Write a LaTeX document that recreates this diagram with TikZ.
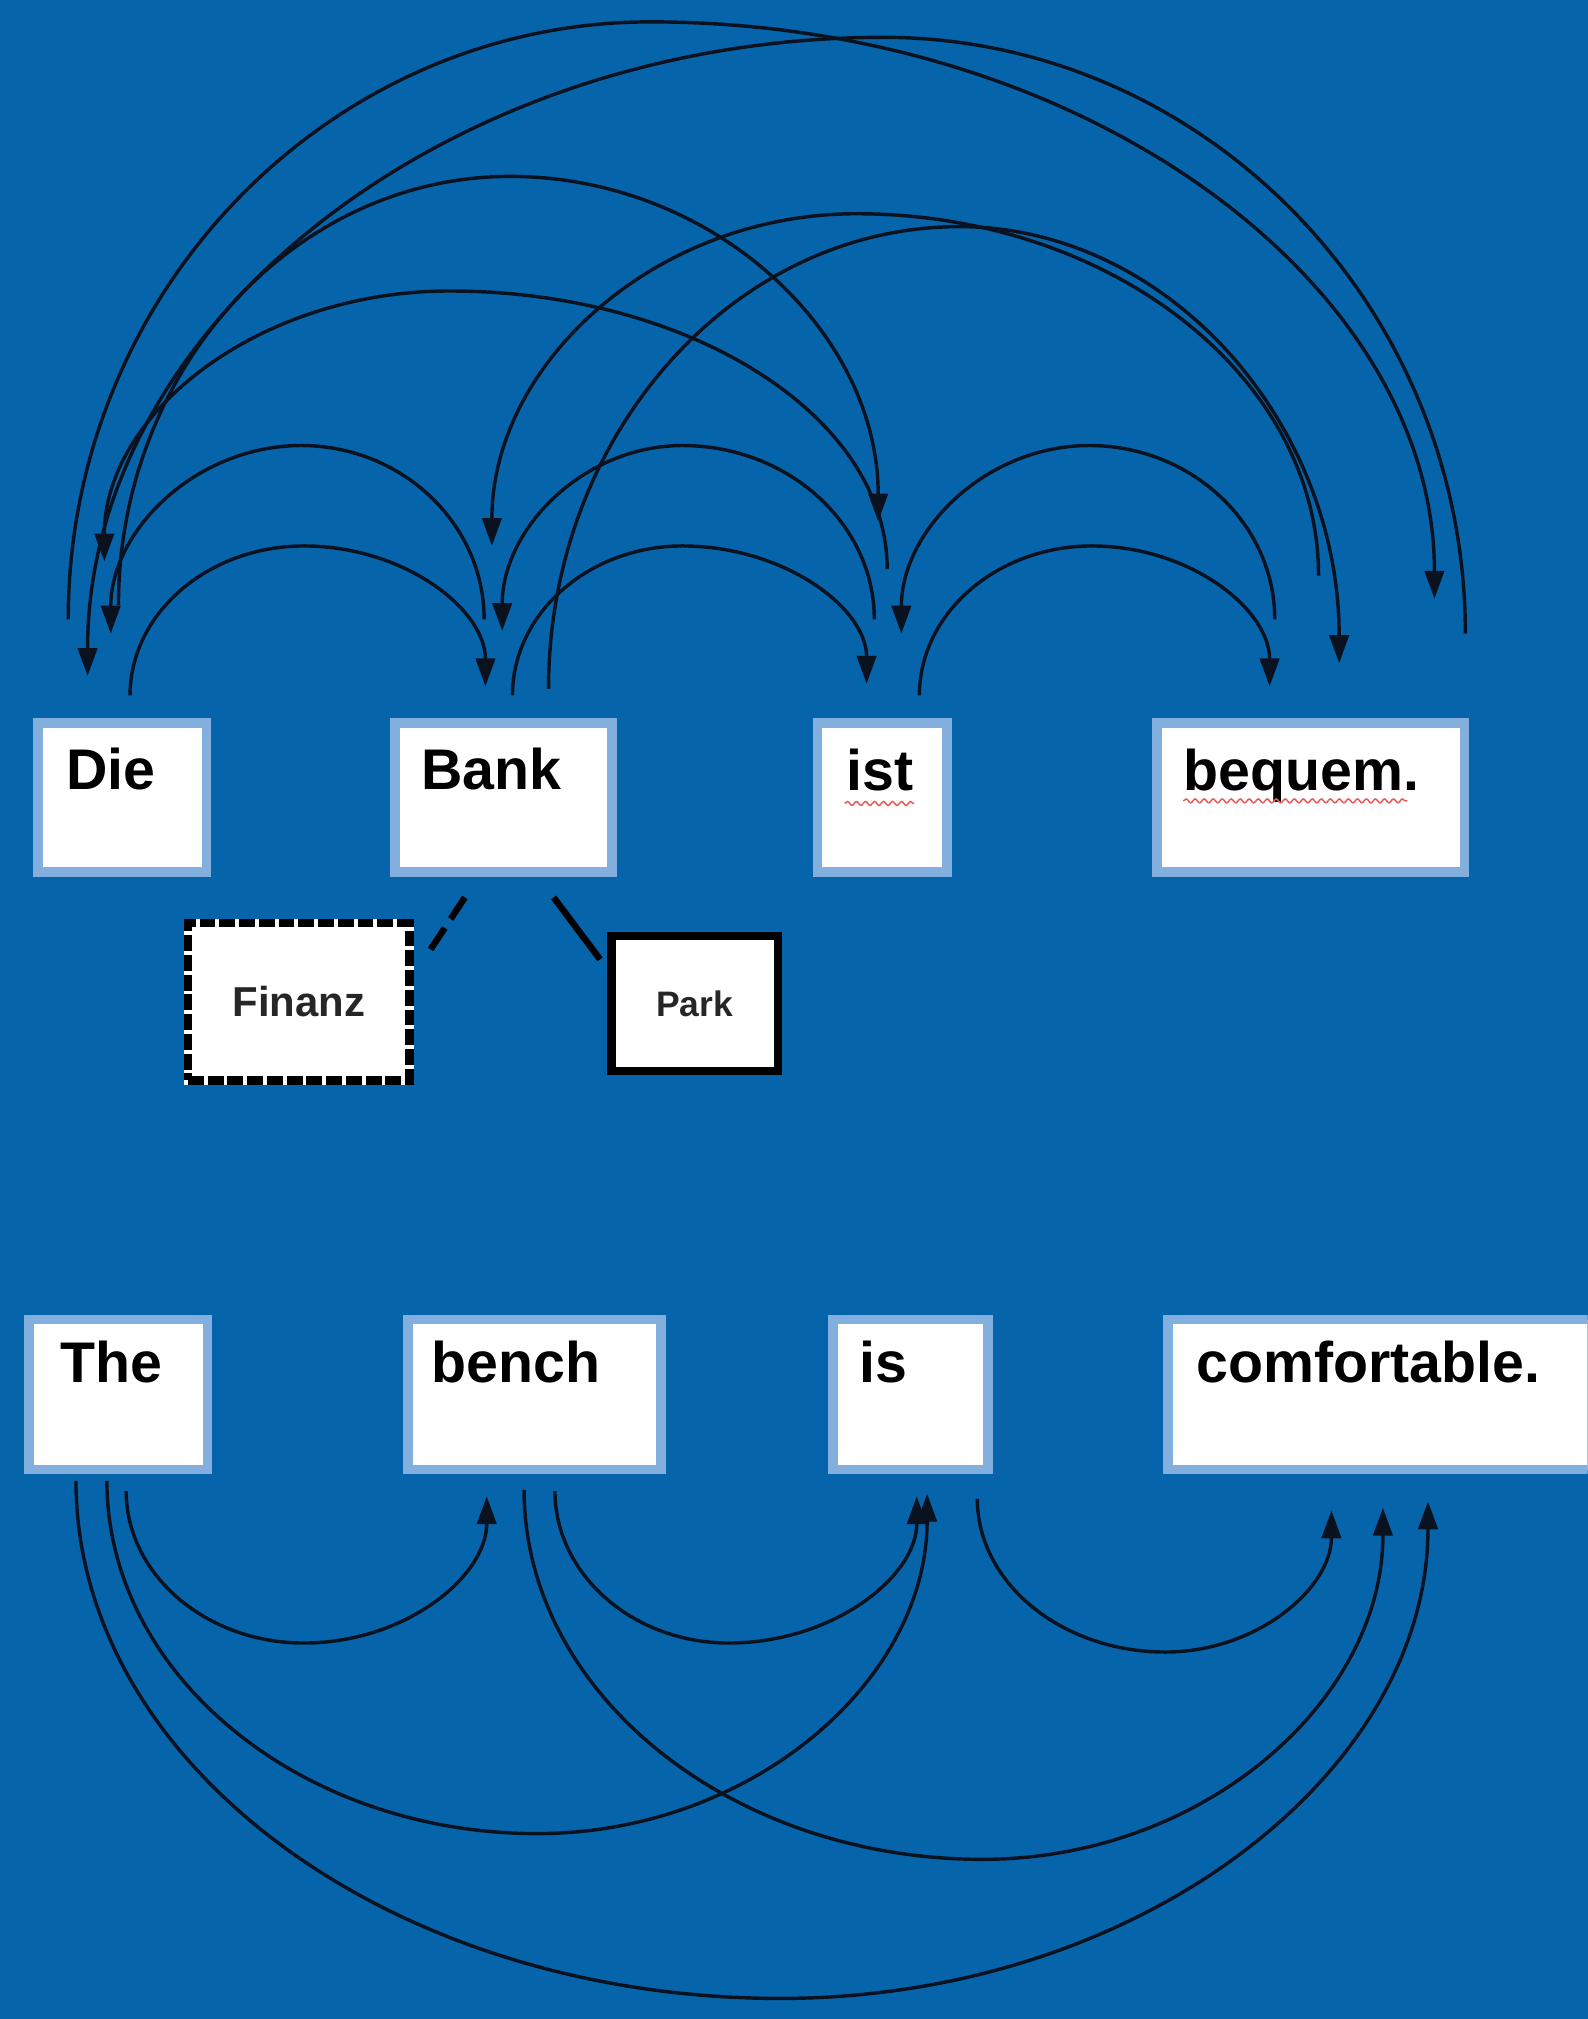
\documentclass[tikz,border=0pt]{standalone}
\usepackage{fontspec}
\setmainfont{Liberation Sans}
\usetikzlibrary{arrows.meta,calc,decorations.pathmorphing}

\definecolor{bgblue}{RGB}{6,100,170}
\definecolor{rimblue}{RGB}{130,175,222}
\definecolor{inkline}{RGB}{10,18,32}
\definecolor{spellred}{RGB}{232,90,90}

% how far the Bezier handles reach towards the corner of each quarter
\newcommand\archull{0.55}
% attention arc: start, apex (top or bottom), end with arrow tip
\newcommand\attnarc[3]{%
  \draw[attn] (#1) .. controls ($(#1)!\archull!(#1|-#2)$) and ($(#2)!\archull!(#1|-#2)$) .. (#2)
    .. controls ($(#2)!\archull!(#3|-#2)$) and ($(#3)!\archull!(#3|-#2)$) .. (#3);}

\begin{document}
\begin{tikzpicture}[x=0.6pt,y=-0.6pt,
  wordbox/.style={draw=rimblue, line width=4.5pt, fill=white, inner sep=0pt, outer sep=0pt},
  wordtext/.style={anchor=base west, inner sep=0pt, text=black,
    font=\bfseries\fontsize{26.7}{32}\selectfont},
  sensebox/.style={draw=black, line width=3.9pt, fill=white, inner sep=0pt, outer sep=0pt,
    text=black!85},
  attn/.style={draw=inkline, line width=1.6pt, -{Triangle[length=13pt,width=9pt]}},
  spell/.style={draw=spellred, line width=0.7pt,
    decorate, decoration={snake, amplitude=0.9pt, segment length=4.2pt}}
]
\path[fill=bgblue, use as bounding box] (0,0) rectangle (1233,1568);
\clip (0,0) rectangle (1233,1568);

% German sentence
\node[wordbox, minimum width=78.3pt, minimum height=69.3pt] (die) at (95,619.5) {};
\node[wordbox, minimum width=101.1pt, minimum height=69.3pt] (bank) at (391,619.5) {};
\node[wordbox, minimum width=60.3pt, minimum height=69.3pt] (ist) at (685,619.5) {};
\node[wordbox, minimum width=143.1pt, minimum height=69.3pt] (bequem) at (1018,619.5) {};
\node[wordtext] (dieT) at (51,613) {Die};
\node[wordtext] (bankT) at (327,613) {Bank};
\node[wordtext] (istT) at (657,614) {ist};
\node[wordtext] (bequemT) at (919,614) {bequem.};

% spell-check squiggles
\coordinate (istW1) at (656,624); \coordinate (istW2) at (710,624);
\coordinate (beqW1) at (919,622); \coordinate (beqW2) at (1093,622);
\draw[spell] (istW1) -- (istW2);
\draw[spell] (beqW1) -- (beqW2);

% the two senses of "Bank"
\node[sensebox, minimum width=103.2pt, minimum height=73.2pt,
  dash pattern=on 7.4pt off 1.8pt,
  preaction={draw=white, solid, line width=3.9pt},
  font=\bfseries\fontsize{19.5}{22}\selectfont] (finanz) at (232,778) {Finanz};
\node[sensebox, minimum width=77.4pt, minimum height=63pt,
  font=\bfseries\fontsize{16.5}{19}\selectfont] (park) at (539.5,779.5) {Park};
\coordinate (bankFin) at (361,697); \coordinate (finEnd) at (332,741);
\coordinate (bankPark) at (430,697); \coordinate (parkEnd) at (466,745);
\draw[line width=3pt, dash pattern=on 12pt off 5pt] (bankFin) -- (finEnd);
\draw[line width=3pt] (bankPark) -- (parkEnd);

% English sentence
\node[wordbox, minimum width=83.1pt, minimum height=69.9pt] (the) at (92,1083) {};
\node[wordbox, minimum width=117.9pt, minimum height=69.9pt] (bench) at (415,1083) {};
\node[wordbox, minimum width=72.3pt, minimum height=69.9pt] (is) at (707,1083) {};
\node[wordbox, minimum width=205.9pt, minimum height=69.9pt] (comf) at (1078.5,1083) {};
\node[wordtext] (theT) at (47,1074) {The};
\node[wordtext] (benchT) at (335,1074) {bench};
\node[wordtext] (isT) at (667,1074) {is};
\node[wordtext] (comfT) at (929,1074) {comfortable.};

% full attention among the German words (arcs above)
\coordinate (DBs) at (101,540);  \coordinate (DBa) at (236,424); \coordinate (DBe) at (377,533);
\coordinate (BDs) at (376,481);  \coordinate (BDa) at (234,346); \coordinate (BDe) at (86,492);
\coordinate (BIs) at (398,540);  \coordinate (BIa) at (530,424); \coordinate (BIe) at (673,531);
\coordinate (IBs) at (679,481);  \coordinate (IBa) at (530,346); \coordinate (IBe) at (390,490);
\coordinate (IQs) at (714,540);  \coordinate (IQa) at (848,424); \coordinate (IQe) at (986,533);
\coordinate (QIs) at (990,481);  \coordinate (QIa) at (846,346); \coordinate (QIe) at (700,492);
\coordinate (DIs) at (92,470);   \coordinate (DIa) at (396,137); \coordinate (DIe) at (682,405);
\coordinate (IDs) at (689,442);  \coordinate (IDa) at (349,226); \coordinate (IDe) at (81,436);
\coordinate (BQs) at (426,535);  \coordinate (BQa) at (745,176); \coordinate (BQe) at (1040,515);
\coordinate (QBs) at (1024,447); \coordinate (QBa) at (665,166); \coordinate (QBe) at (382,424);
\coordinate (DQs) at (53,481);   \coordinate (DQa) at (505,17);  \coordinate (DQe) at (1114,465);
\coordinate (QDs) at (1138,492); \coordinate (QDa) at (686,29);  \coordinate (QDe) at (68,525);

\attnarc{DBs}{DBa}{DBe}
\attnarc{BDs}{BDa}{BDe}
\attnarc{BIs}{BIa}{BIe}
\attnarc{IBs}{IBa}{IBe}
\attnarc{IQs}{IQa}{IQe}
\attnarc{QIs}{QIa}{QIe}
\attnarc{DIs}{DIa}{DIe}
\attnarc{IDs}{IDa}{IDe}
\attnarc{BQs}{BQa}{BQe}
\attnarc{QBs}{QBa}{QBe}
\attnarc{DQs}{DQa}{DQe}
\attnarc{QDs}{QDa}{QDe}

% masked attention among the English words (arcs below)
\coordinate (TBs) at (98,1158);  \coordinate (TBa) at (236,1276); \coordinate (TBe) at (378,1162);
\coordinate (BSs) at (431,1158); \coordinate (BSa) at (566,1276); \coordinate (BSe) at (712,1162);
\coordinate (SCs) at (759,1164); \coordinate (SCa) at (905,1283); \coordinate (SCe) at (1034,1173);
\coordinate (TSs) at (83,1150);  \coordinate (TSa) at (417,1424); \coordinate (TSe) at (720,1160);
\coordinate (BCs) at (407,1157); \coordinate (BCa) at (763,1444); \coordinate (BCe) at (1074,1171);
\coordinate (TCs) at (59,1150);  \coordinate (TCa) at (606,1552); \coordinate (TCe) at (1109,1166);

\attnarc{TBs}{TBa}{TBe}
\attnarc{BSs}{BSa}{BSe}
\attnarc{SCs}{SCa}{SCe}
\attnarc{TSs}{TSa}{TSe}
\attnarc{BCs}{BCa}{BCe}
\attnarc{TCs}{TCa}{TCe}
\end{tikzpicture}
\end{document}
